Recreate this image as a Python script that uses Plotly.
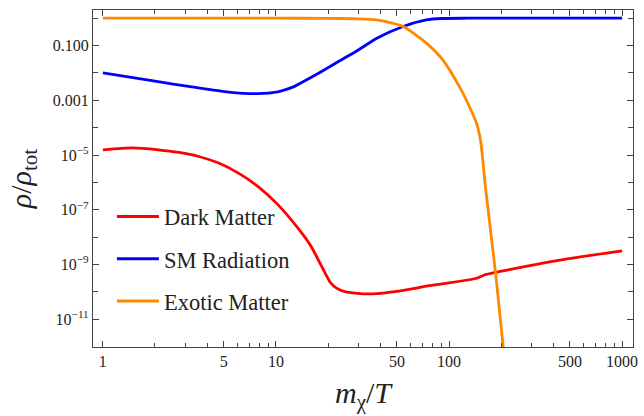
import plotly.graph_objects as go

# ---- data ----
dm_x = [1.0, 1.48, 2.09, 2.75, 3.58, 4.67, 6.07, 7.89, 10.26, 13.37, 15.85, 18.16, 20.7,
        22.4, 24.7, 30.7, 38.3, 49.8, 77.3, 142.6, 162.2, 231.0, 447.0, 1000.0]
dm_y = [1.55e-5, 1.82e-5, 1.55e-5, 1.245e-5, 8.9e-6, 5.13e-6, 2.19e-6, 7.08e-7, 1.55e-7,
        2.19e-8, 5.0e-9, 1.0e-9, 2.14e-10, 1.38e-10, 1.05e-10, 8.7e-11, 8.7e-11, 1.05e-10, 1.7e-10,
        3.1e-10, 4.3e-10, 6.9e-10, 1.5e-9, 3.2e-9]

sm_x = [1.0, 2.0, 3.27, 5.32, 7.89, 10.26, 11.5, 12.8, 17.4, 22.6, 29.4, 38.3, 54.3, 74.0, 91.2, 126.0, 1000.0]
sm_y = [1.0e-2, 5.0e-3, 3.1e-3, 2.0e-3, 1.76e-3, 2.05e-3, 2.5e-3, 3.24e-3, 9.3e-3, 2.45e-2, 6.46e-2,
        0.186, 0.5, 0.87, 0.977, 1.0, 1.0]

ex_x = [1.0, 10.0, 20.0, 28.2, 38.3, 54.3, 74.0, 92.0, 114.8, 136.5, 144.5, 152.4, 162.6,
        185.8, 205.6, 213.8]
ex_y = [1.0, 1.0, 0.989, 0.955, 0.871, 0.501, 0.123, 0.0302, 3.16e-3, 3.39e-4, 1.41e-4,
        3.16e-5, 6.3e-7, 4.9e-10, 1e-12, 1.26e-13]

x_major = [1, 5, 10, 50, 100, 500, 1000]
x_minor = [2, 3, 4, 6, 7, 8, 9, 20, 30, 40, 60, 70, 80, 90, 200, 300, 400, 600, 700, 800, 900]
y_major = [1e-1, 1e-3, 1e-5, 1e-7, 1e-9, 1e-11]
y_major_text = ["0.100", "0.001", "10<sup>−5</sup>", "10<sup>−7</sup>", "10<sup>−9</sup>", "10<sup>−11</sup>"]
y_minor = [1, 1e-2, 1e-4, 1e-6, 1e-8, 1e-10]

names = ["Dark Matter", "SM Radiation", "Exotic Matter"]
colors = ["#ff0000", "#0000ff", "#ff8800"]

FONT = "Liberation Serif"

fig = go.Figure()
for i, (xs, ys) in enumerate([(dm_x, dm_y), (sm_x, sm_y), (ex_x, ex_y)]):
    fig.add_trace(go.Scatter(
        x=xs, y=ys, mode="lines", name=names[i], legendgroup=str(i),
        line=dict(color=colors[i], width=2.8, shape="spline", smoothing=0.6),
    ))

axis_common = dict(
    showline=True, linecolor="#444", linewidth=1.2, mirror="ticks",
    ticks="inside", tickcolor="#444", tickwidth=1, showgrid=False, zeroline=False,
    tickfont=dict(family=FONT, size=16, color="#222"),
)

fig.update_xaxes(
    type="log", range=[-0.057, 3.063],
    tickmode="array", tickvals=x_major, ticktext=[str(v) for v in x_major], ticklen=6,
    minor=dict(tickmode="array", tickvals=x_minor, ticks="inside", ticklen=3.5, tickcolor="#444", showgrid=False),
    title=dict(text="<i>m</i><sub>χ</sub>/<i>T</i>", font=dict(family=FONT, size=30, color="#222"), standoff=12),
    **axis_common,
)
fig.update_yaxes(
    type="log", range=[-12.01, 0.30],
    tickmode="array", tickvals=y_major, ticktext=y_major_text, ticklen=6,
    minor=dict(tickmode="array", tickvals=y_minor, ticks="inside", ticklen=5, tickcolor="#444", showgrid=False),
    title=dict(text="<i>ρ</i>/<i>ρ</i><sub>tot</sub>", font=dict(family=FONT, size=30, color="#222"), standoff=12),
    **axis_common,
)

fig.update_layout(
    width=644, height=416,
    margin=dict(l=93, r=6, t=10, b=69),
    paper_bgcolor="white", plot_bgcolor="white",
    font=dict(family=FONT, color="#222"),
    legend=dict(x=0.035, y=0.45, xanchor="left", yanchor="top", itemwidth=42,
                font=dict(family=FONT, size=22.5, color="#222"),
                bgcolor="rgba(0,0,0,0)", tracegroupgap=10, traceorder="grouped"),
)

fig.write_html("out.html")
